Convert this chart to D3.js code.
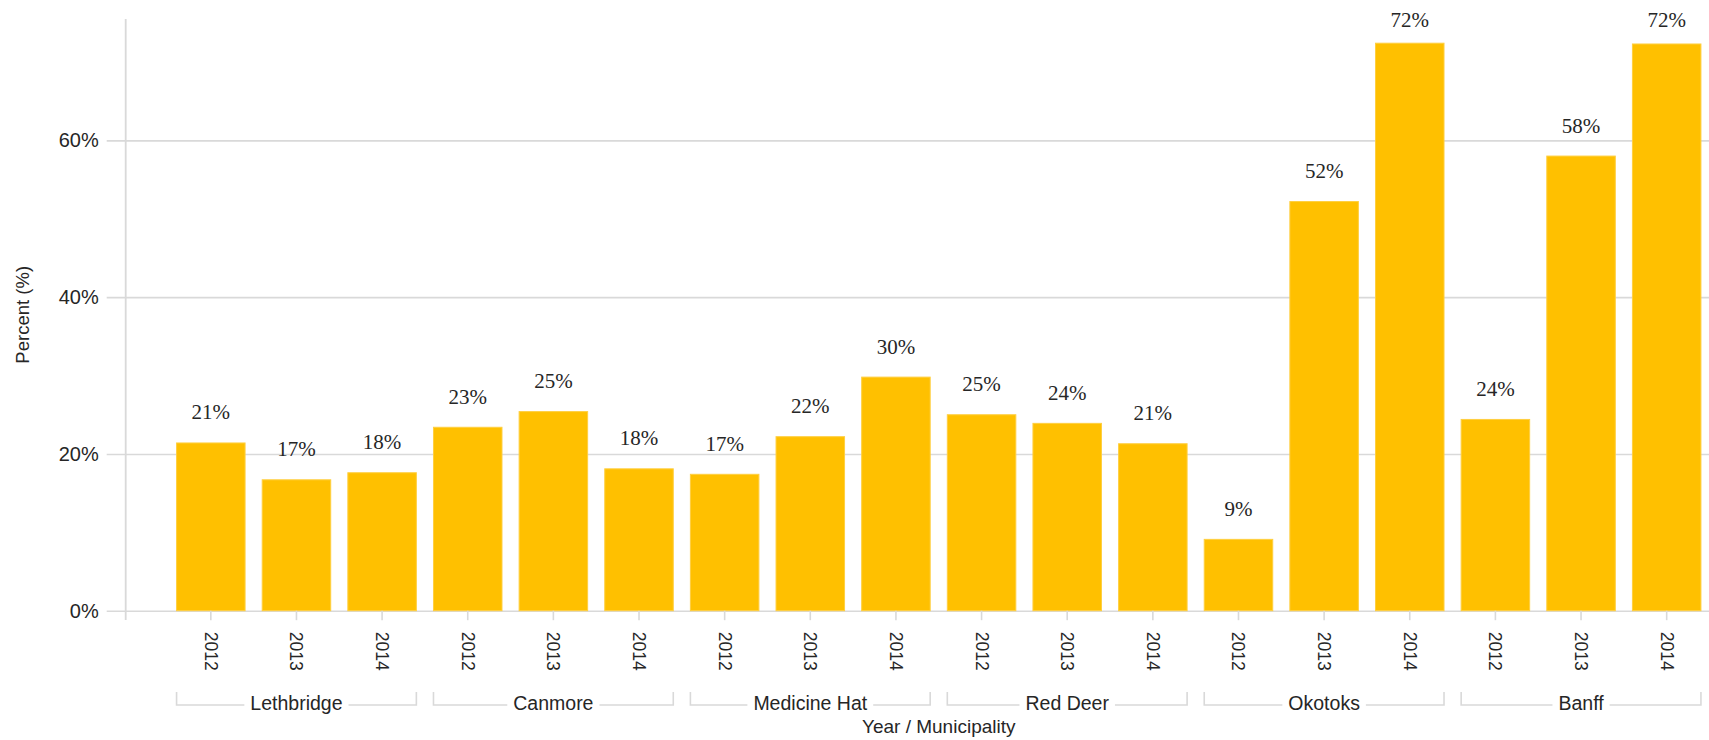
<!DOCTYPE html>
<html>
<head>
<meta charset="utf-8">
<script src="https://cdn.jsdelivr.net/npm/d3@7"></script>
<style>
  html, body { margin: 0; padding: 0; background: #fff; }
  svg { display: block; }
</style>
</head>
<body>
<svg id="chart" width="1709" height="740"></svg>
<script>
// Share of respondents by municipality and survey year
const municipalities = ["Lethbridge", "Canmore", "Medicine Hat", "Red Deer", "Okotoks", "Banff"];
const years = ["2012", "2013", "2014"];
const lethbridge  = [21.4, 16.7, 17.6];
const canmore     = [23.4, 25.4, 18.1];
const medicineHat = [17.4, 22.2, 29.8];
const redDeer     = [25.0, 23.9, 21.3];
const okotoks     = [9.1, 52.2, 72.4];
const banff       = [24.4, 58.0, 72.3];
const yTicks = [0, 20, 40, 60];

const seriesByMunicipality = [lethbridge, canmore, medicineHat, redDeer, okotoks, banff];
const rows = [];
municipalities.forEach((m, i) => {
  years.forEach((y, j) => rows.push({ key: m + "|" + y, municipality: m, year: y, value: seriesByMunicipality[i][j] }));
});

const W = 1709, H = 740;
const svg = d3.select("#chart");

const sansFont = "'Liberation Sans Narrow', 'Liberation Sans', Arial, sans-serif";
const serifFont = "'Liberation Serif', 'Times New Roman', serif";
const textColor = "#262626";
const gridColor = "#d9d9d9";
const barColor = "#FFC000";

const axisX = 125.7;
const baseY = 610.7;
const topY = 18.9;

const x = d3.scaleBand()
  .domain(rows.map(d => d.key))
  .range([168, 1709.5])
  .paddingInner(0.2)
  .paddingOuter(0.1);

const y = d3.scaleLinear()
  .domain([0, 75.5])
  .range([baseY, topY]);

// Horizontal gridlines with percent tick labels
const yAxis = d3.axisLeft(y)
  .tickValues(yTicks)
  .tickFormat(d => d + "%")
  .tickSize(-(W - 106.7))
  .tickPadding(8);

const gy = svg.append("g")
  .attr("transform", `translate(106.7,0)`)
  .call(yAxis);
gy.select(".domain").remove();
gy.selectAll(".tick line")
  .attr("stroke", gridColor)
  .attr("stroke-width", 1.6);
gy.selectAll(".tick text")
  .attr("font-family", sansFont)
  .attr("font-size", 20)
  .attr("fill", textColor);

// Vertical axis line
svg.append("line")
  .attr("x1", axisX).attr("x2", axisX)
  .attr("y1", topY).attr("y2", 620)
  .attr("stroke", gridColor)
  .attr("stroke-width", 1.8);

// Bars
svg.append("g")
  .selectAll("rect")
  .data(rows)
  .join("rect")
  .attr("x", d => x(d.key))
  .attr("width", x.bandwidth())
  .attr("y", d => y(d.value))
  .attr("height", d => baseY - y(d.value))
  .attr("fill", barColor)
  .attr("stroke", "#ffcf40")
  .attr("stroke-width", 1);

// Value labels above bars
svg.append("g")
  .selectAll("text")
  .data(rows)
  .join("text")
  .attr("x", d => x(d.key) + x.bandwidth() / 2)
  .attr("y", d => Math.max(y(d.value) - 23.5, 27))
  .attr("text-anchor", "middle")
  .attr("font-family", serifFont)
  .attr("font-size", 21)
  .attr("fill", textColor)
  .text(d => d3.format(".0f")(d.value) + "%");

// Category axis: ticks and rotated year labels
const gx = svg.append("g")
  .attr("transform", `translate(0,${baseY})`)
  .call(d3.axisBottom(x).tickSize(9.5).tickFormat(k => k.split("|")[1]));
gx.select(".domain").remove();
gx.selectAll(".tick line")
  .attr("stroke", gridColor)
  .attr("stroke-width", 1.6);
gx.selectAll(".tick text")
  .attr("font-family", sansFont)
  .attr("font-size", 17.5)
  .attr("fill", textColor)
  .attr("text-anchor", "start")
  .attr("dominant-baseline", "central")
  .attr("dy", null)
  .attr("y", 0)
  .attr("transform", "translate(0,21) rotate(90)");

// Municipality group brackets
const bracketY = 705;
const bracketTop = 692;
const groups = svg.append("g");
municipalities.forEach(m => {
  const first = x(m + "|" + years[0]);
  const last = x(m + "|" + years[years.length - 1]) + x.bandwidth();
  const cx = (first + last) / 2;
  const g = groups.append("g");
  const label = g.append("text")
    .attr("x", cx)
    .attr("y", 710)
    .attr("text-anchor", "middle")
    .attr("font-family", sansFont)
    .attr("font-size", 19.5)
    .attr("fill", textColor)
    .text(m);
  const half = label.node().getComputedTextLength() / 2 + 6;
  const path = d3.path();
  path.moveTo(first, bracketTop);
  path.lineTo(first, bracketY);
  path.lineTo(cx - half, bracketY);
  path.moveTo(cx + half, bracketY);
  path.lineTo(last, bracketY);
  path.lineTo(last, bracketTop);
  g.append("path")
    .attr("d", path.toString())
    .attr("fill", "none")
    .attr("stroke", gridColor)
    .attr("stroke-width", 1.6);
});

// Axis titles
const xs = x.domain();
const midX = (x(xs[0]) + x(xs[xs.length - 1]) + x.bandwidth()) / 2;
svg.append("text")
  .attr("x", midX)
  .attr("y", 733)
  .attr("text-anchor", "middle")
  .attr("font-family", sansFont)
  .attr("font-size", 19)
  .attr("fill", textColor)
  .text("Year / Municipality");

svg.append("text")
  .attr("transform", `translate(22,${(topY + baseY) / 2}) rotate(-90)`)
  .attr("text-anchor", "middle")
  .attr("dominant-baseline", "central")
  .attr("font-family", sansFont)
  .attr("font-size", 18.5)
  .attr("fill", textColor)
  .text("Percent (%)");
</script>
</body>
</html>
